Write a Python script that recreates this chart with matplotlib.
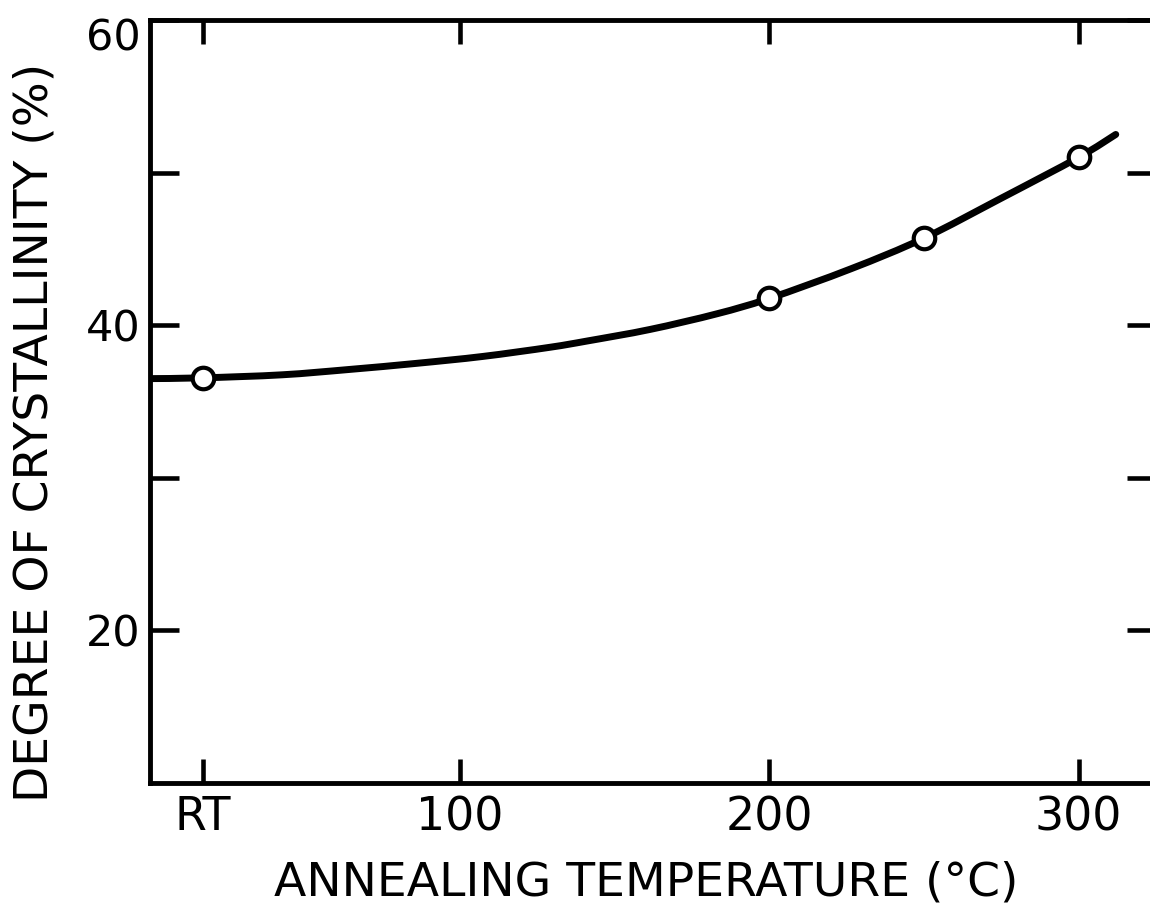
import matplotlib
matplotlib.use("Agg")
import matplotlib.pyplot as plt
from matplotlib.path import Path
from matplotlib.patches import PathPatch
from matplotlib.transforms import ScaledTranslation

# Data
temp_points = [17, 200, 250, 300]          # RT plotted at ~17 on the temperature scale
cryst_points = [36.55, 41.75, 45.7, 51.0]

# Hand-drawn smooth curve: points
curve_temp = [0, 17, 42.7, 64.4, 86.1, 107.4, 129.1, 141.4, 161.5, 183.2, 200, 226.5, 250, 274.8, 300, 312]
curve_cryst = [36.5, 36.55, 36.75, 37.1, 37.5, 37.95, 38.55, 38.97, 39.72, 40.75, 41.75, 43.7, 45.7, 48.3, 51.0, 52.5]

xtick_pos = [17, 100, 200, 300]
xtick_labels = ["RT", "100", "200", "300"]
ytick_pos = [20, 30, 40, 50, 60]
ytick_labels = ["20", "", "40", "", "60"]

plt.rcParams['font.family'] = ['DejaVu Sans']

fig = plt.figure(figsize=(11.5, 9.08), dpi=100)
W, H = 1150, 908
left, right, top, bottom = 150, 1156, 20, 783
ax = fig.add_axes([left / W, 1 - bottom / H, (right - left) / W, (bottom - top) / H])

# smooth curve through the read points (Catmull-Rom rendered as cubic Bezier)
pts = list(zip(curve_temp, curve_cryst))
verts = [pts[0]]
codes = [Path.MOVETO]
n = len(pts)
for i in range(n - 1):
    p0 = pts[i - 1] if i > 0 else pts[i]
    p1 = pts[i]
    p2 = pts[i + 1]
    p3 = pts[i + 2] if i + 2 < n else pts[i + 1]
    c1 = (p1[0] + (p2[0] - p0[0]) / 6, p1[1] + (p2[1] - p0[1]) / 6)
    c2 = (p2[0] - (p3[0] - p1[0]) / 6, p2[1] - (p3[1] - p1[1]) / 6)
    verts += [c1, c2, p2]
    codes += [Path.CURVE4] * 3
patch = PathPatch(Path(verts, codes), facecolor='none', edgecolor='black',
                  lw=5, capstyle='round', joinstyle='round', transform=ax.transData, zorder=2)
ax.add_patch(patch)

ax.plot(temp_points, cryst_points, linestyle='none', marker='o', ms=15.5,
        mfc='white', mec='black', mew=3.0, zorder=3)

ax.set_xlim(0, 325)
ax.set_ylim(10, 60)

ax.set_xticks(xtick_pos)
ax.set_xticklabels(xtick_labels)
ax.set_yticks(ytick_pos)
ax.set_yticklabels(ytick_labels)

ax.tick_params(axis='both', direction='in', width=3.3, color='black')
ax.tick_params(axis='x', length=17, top=True, bottom=True, labelsize=33, pad=9)
ax.tick_params(axis='y', length=21, left=True, right=True, labelsize=31, pad=7)

for lab in ax.get_yticklabels():
    if lab.get_text() == "60":
        lab.set_transform(lab.get_transform() + ScaledTranslation(0, -0.14, fig.dpi_scale_trans))

for s in ax.spines.values():
    s.set_linewidth(3.5)
    s.set_color('black')

ax.set_xlabel("ANNEALING TEMPERATURE (°C)", fontsize=34)
ax.xaxis.set_label_coords((646 - left) / (right - left), (bottom - 860) / (bottom - top))
ax.set_ylabel("DEGREE OF CRYSTALLINITY (%)", fontsize=34)
ax.yaxis.set_label_coords((58 - left) / (right - left), (bottom - 432) / (bottom - top))

fig.savefig("out.png", dpi=100, facecolor='white')
